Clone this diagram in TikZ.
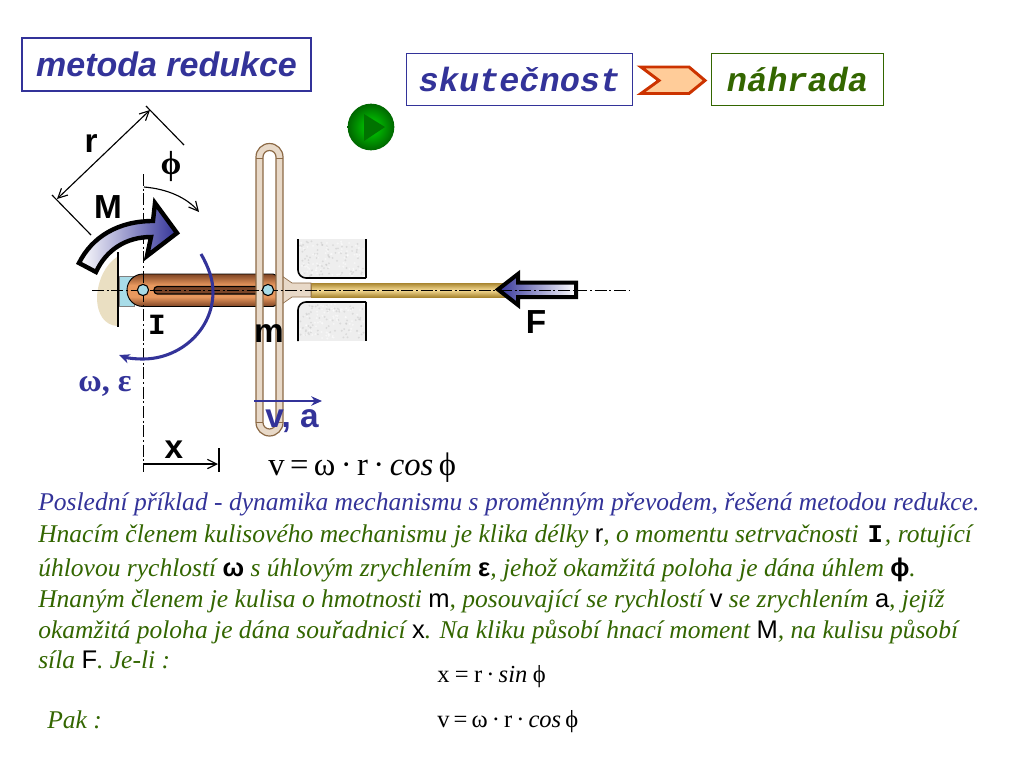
\documentclass[tikz,border=0pt]{standalone}
\usepackage{fontspec}
\setmainfont{Liberation Serif}
\setsansfont{Liberation Sans}
\setmonofont{Liberation Mono}
\usetikzlibrary{arrows.meta}
\definecolor{bluett}{HTML}{333399}
\definecolor{greentt}{HTML}{336600}
\definecolor{yokefill}{HTML}{E8D9C8}
\definecolor{yokeline}{HTML}{8C6A46}
\definecolor{blockfill}{HTML}{EEEEEE}
\definecolor{HTMLred}{HTML}{CC3300}
\definecolor{HTMLpeach}{HTML}{FFCC99}
\definecolor{HTMLbeige}{HTML}{EADFC2}
\definecolor{HTMLlblue}{HTML}{A8DCE8}
\definecolor{HTMLcrankd}{HTML}{7E4424}
\definecolor{HTMLcrankl}{HTML}{E8985E}
\definecolor{HTMLslot}{HTML}{7A4528}
\definecolor{HTMLrodd}{HTML}{A8852F}
\definecolor{HTMLrodl}{HTML}{F6DC96}
\pgfdeclareverticalshading{crankshade}{100bp}{color(0bp)=(HTMLcrankd); color(25bp)=(HTMLcrankd); color(40bp)=(HTMLcrankl); color(58bp)=(HTMLcrankl); color(75bp)=(HTMLcrankd); color(100bp)=(HTMLcrankd)}
\pgfdeclareverticalshading{rodshade}{100bp}{color(0bp)=(HTMLrodd); color(25bp)=(HTMLrodd); color(50bp)=(HTMLrodl); color(75bp)=(HTMLrodd); color(100bp)=(HTMLrodd)}
\newcommand{\sw}[1]{\textcolor{black}{\textup{\textsf{#1}}}}
\newcommand{\sy}[1]{\textcolor{black}{\textup{\sffamily\bfseries #1}}}
\tikzset{
 px/.style={x=0.75pt,y=-0.75pt},
 axisline/.style={black,line width=0.75pt,dash pattern=on 9pt off 2pt on 1.5pt off 2pt},
 dim/.style={black,line width=0.85pt},
 barb/.style={-{Straight Barb[length=7pt,width=7pt]}},
 bluetip/.style={-{Stealth[length=8pt,width=7pt,inset=2.5pt]}},
 bodytext/.style={anchor=base west,inner sep=0pt,font=\fontsize{19.15pt}{21pt}\selectfont\itshape},
 biglabel/.style={inner sep=0pt,font=\fontsize{25pt}{28pt}\selectfont\sffamily\bfseries},
 formula/.style={anchor=base west,inner sep=0pt,font=\fontsize{18.4pt}{20pt}\selectfont},
 blockline/.style={black,line width=1.2pt},
}
\begin{document}
\begin{tikzpicture}[px]
\useasboundingbox (0,0) rectangle (1024,768);
\fill[white] (0,0) rectangle (1024,768);

% title boxes
\node[draw=bluett,line width=1.5pt,text=bluett,minimum width=216.5pt,minimum height=39.5pt,inner sep=0pt,
  font=\fontsize{25.5pt}{28pt}\selectfont\sffamily\bfseries\itshape] (title) at (166.5,64.5) {metoda redukce};
\node[draw=bluett,line width=0.75pt,text=bluett,minimum width=170pt,minimum height=39.5pt,inner sep=0pt,
  font=\fontsize{25.2pt}{28pt}\selectfont\ttfamily\bfseries\itshape] (skut) at (519.5,79.5) {skutečnost};
\node[draw=greentt,line width=0.75pt,text=greentt,minimum width=129.5pt,minimum height=39.5pt,inner sep=0pt,
  font=\fontsize{25.2pt}{28pt}\selectfont\ttfamily\bfseries\itshape] (nahr) at (797.5,79.5) {náhrada};
\draw[draw=HTMLred,fill=HTMLpeach,line width=2.2pt] (641,67) -- (689,67) -- (705,80.5) -- (689,93.5) -- (641,93.5) -- (659,80.5) -- cycle;

% play button
\shade[inner color=green!85!black,outer color=green!40!black] (371,127) circle (17.5pt);
\fill[green!45!black] (364,114) -- (385,127) -- (364,141) -- cycle;

% base
\fill[HTMLbeige] (117,257) .. controls (105,265) and (98,280) .. (97,297) .. controls (97,315) and (105,325) .. (117,326) -- cycle;
\fill[HTMLlblue,draw=black!50,line width=0.4pt] (119,276) rectangle (134,306);
\draw[black,line width=1.4pt] (118,252) -- (118,327);

% blocks
\begin{scope}
\fill[blockfill,rounded corners=6pt] (298,230) -- (298,278) -- (366,278) -- (366,230) -- cycle;
\fill[white] (290,225) rectangle (372,239);
\fill[blockfill,rounded corners=6pt] (298,350) -- (298,302) -- (366,302) -- (366,350) -- cycle;
\fill[white] (290,341) rectangle (372,355);
\pgfmathsetseed{7}
\foreach \i in {1,...,300}{
  \pgfmathsetmacro{\xx}{300+64*rnd}
  \pgfmathsetmacro{\yy}{(\i<150 ? 241 : 304)+35*rnd}
  \pgfmathsetmacro{\shadev}{mod(\i,2)==0 ? 22 : 0}
  \fill[black!\shadev!white,opacity=0.5] (\xx,\yy) circle (0.8pt);
}
\end{scope}
\draw[blockline,rounded corners=6pt] (298,239) -- (298,278) -- (366,278);
\draw[blockline] (366,239) -- (366,278);
\draw[blockline,rounded corners=6pt] (366,302) -- (298,302) -- (298,341);
\draw[blockline] (366,302) -- (366,341);

% crank
\path[draw=black,line width=0.7pt,shading=crankshade]
  (200,274) [rounded corners=12pt] -- (127,274) -- (127,306.5) [rounded corners=3pt] -- (277,306.5) -- (277,274) -- cycle;
\draw[fill=HTMLslot,line width=0.9pt,rounded corners=2.5pt] (154,286.5) rectangle (262,294);

% rod
\path[draw=HTMLrodd,line width=0.6pt,shading=rodshade] (311,283) rectangle (505,297);
% neck
\draw[yokeline,fill=yokefill,line width=0.5pt] (282,276) -- (292,283) -- (311,283) -- (311,297) -- (292,297) -- (282,304) -- cycle;

% yoke
\path[draw=yokeline,line width=0.9pt,fill=yokefill,even odd rule]
  (256,157) arc[start angle=180,end angle=360,radius=13.5] -- (283,422.5) arc[start angle=0,end angle=180,radius=13.5] -- cycle
  (263,157) arc[start angle=180,end angle=360,radius=6.5] -- (276,422.5) arc[start angle=0,end angle=180,radius=6.5] -- cycle;
\draw[yokeline,line width=0.5pt] (256,158) -- (263,158) (276,158) -- (283,158) (256,422.5) -- (263,422.5) (276,422.5) -- (283,422.5);

% axes
\draw[axisline] (92,290) -- (630,290);
\draw[axisline] (143,174) -- (143,472);

% pins
\draw[fill=HTMLlblue,line width=0.8pt] (143,290) circle (4.2pt);
\draw[fill=HTMLlblue,line width=0.8pt] (268,290) circle (4.2pt);

% M arrow
\path[draw=black,line width=3.3pt,left color=white,right color=bluett,miter limit=8]
  (79,263) .. controls (92,237) and (118,221) .. (153,221) -- (155,203) -- (177,233) -- (147,256) -- (151,237)
  .. controls (126,237) and (106,250) .. (96,272) -- cycle;

% F arrow
\path[draw=black,line width=3pt,left color=bluett,right color=white]
  (498,289.5) -- (518,274) -- (518,282.5) -- (576,282.5) -- (576,297) -- (518,297) -- (518,305) -- cycle;
\draw[axisline] (500,290) -- (576,290);

% blue rotation arc
\draw[bluett,line width=2.3pt,bluetip]
  (201,254) .. controls (209,268) and (213,280) .. (213,292) .. controls (213,330) and (180,359) .. (143,359) .. controls (135,359) and (127,358) .. (119,355);
% phi arc
\draw[dim,barb] (144,187) .. controls (168,189) and (187,198) .. (199,212);
% r dimension
\draw[dim] (52,195) -- (91,235);
\draw[dim] (146,106) -- (184,145);
\draw[dim,{Straight Barb[length=7pt,width=7pt]}-{Straight Barb[length=7pt,width=7pt]}] (57,199) -- (150,110);
% x dimension
\draw[dim,barb] (143,464) -- (218,464);
\draw[dim] (219,448) -- (219,472);
% v arrow
\draw[bluett,line width=2pt,bluetip] (254,401) -- (322,401);

% labels
\node[biglabel] (lr) at (91,144) {r};
\node[inner sep=0pt,font=\fontsize{25pt}{28pt}\selectfont\bfseries] (lphi) at (171,166) {ϕ};
\node[biglabel] (lM) at (108,207) {M};
\node[inner sep=0pt,font=\fontsize{22pt}{24pt}\selectfont\ttfamily\bfseries] (lI) at (157,325) {I};
\node[biglabel] (lm) at (269,334) {m};
\node[biglabel] (lF) at (536,322) {F};
\node[biglabel,text=bluett] (lva) at (292,421) {v, a};
\node[biglabel] (lx) at (174,450) {x};
\node[inner sep=0pt,text=bluett,font=\fontsize{24pt}{26pt}\selectfont\bfseries] (lwe) at (105,386) {ω, ε};

% formula
\node[anchor=base west,inner sep=0pt,font=\fontsize{24.5pt}{28pt}\selectfont] (f0) at (268,475) {v\,=\,ω\,·\,r\,·\,\textit{cos}\,ϕ};

% text
\node[bodytext,text=bluett] (t1) at (38,510) {Poslední příklad - dynamika mechanismu s proměnným převodem, řešená metodou redukce.};
\node[bodytext,text=greentt] (t2) at (38,542) {Hnacím členem kulisového mechanismu je klika délky \sw{r}, o momentu setrvačnosti \kern 2pt\textcolor{black}{\textup{\ttfamily\bfseries I}}\kern 1.5pt, rotující};
\node[bodytext,text=greentt] (t3) at (38,576) {úhlovou rychlostí \sy{ω} s úhlovým zrychlením \sy{ε}, jehož okamžitá poloha je dána úhlem \sy{ϕ}.};
\node[bodytext,text=greentt] (t4) at (38,607) {Hnaným členem je kulisa o hmotnosti \sw{m}, posouvající se rychlostí \sw{v} se zrychlením \sw{a}, jejíž};
\node[bodytext,text=greentt] (t5) at (38,638) {okamžitá poloha je dána souřadnicí \sw{x}. Na kliku působí hnací moment \sw{M}, na kulisu působí};
\node[bodytext,text=greentt] (t6) at (38,668) {síla \sw{F}. Je-li :};
\node[bodytext,text=greentt] (t7) at (47,728) {Pak :};
\node[formula] (f1) at (437,682) {x\,\kern 1pt=\kern 1pt\,r\,·\,\textit{sin}\kern 1pt\,ϕ};
\node[formula] (f2) at (437,727) {v\,=\,ω\,·\,r\,·\,\textit{cos}\,ϕ};
\end{tikzpicture}
\end{document}
